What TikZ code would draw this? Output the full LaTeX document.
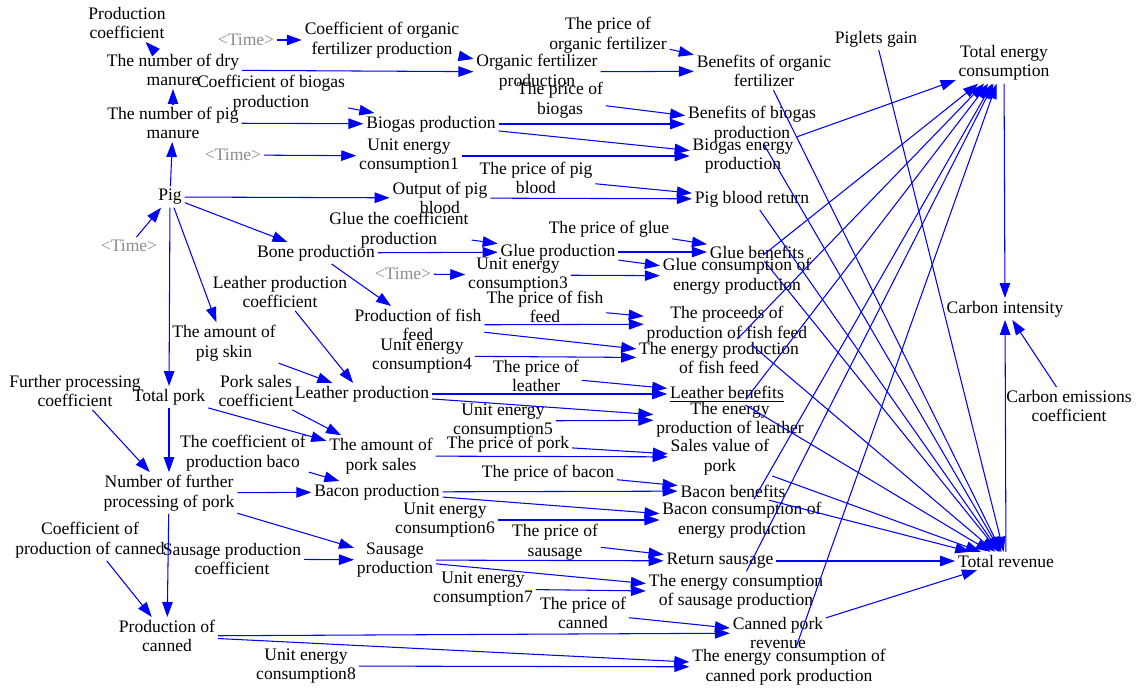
\documentclass[tikz,border=0pt]{standalone}
\usepackage{fontspec}
\setmainfont{Liberation Serif}
\usepackage{xcolor}
\usepackage{tikz}
\usetikzlibrary{
  arrows.meta
}
\definecolor{linkblue}{RGB}{0,0,255}
\tikzset{
  >={Triangle[length=3mm,width=2.1mm]},
  var/.style={align=center,inner sep=1.5pt},
  shadowvar/.style={var,text=gray!90},
  link/.style={->,draw=linkblue,line width=0.6pt}
}

\begin{document}
\begin{tikzpicture}[x=0.02cm,y=-0.02cm,font=\fontsize{10}{11.1}\selectfont]
    \useasboundingbox (0,0) rectangle (1137,688);
    % Estiércol y biogás
    \node[var] (prodcoef) at (127,23) {Production\\coefficient};
    \node[var] (drymanure) at (173,70) {The number of dry\\manure};
    \node[var] (pigmanure) at (173,123) {The number of pig\\manure};
    \node[shadowvar] (time1) at (246,40) {<Time>};
    \node[var] (coeforg) at (382,40) {Coefficient of organic\\fertilizer production};
    \node[var] (orgprod) at (537,72) {Organic fertilizer\\production};
    \node[var] (coefbio) at (271,93) {Coefficient of biogas\\production};
    \node[var] (bioprod) at (431,124) {Biogas production};
    \node[shadowvar] (time2) at (233,155) {<Time>};
    \node[var] (unit1) at (409,156) {Unit energy\\consumption1};
    \node[var] (priceorg) at (608,35) {The price of\\organic fertilizer};
    \node[var] (benorg) at (764,71) {Benefits of organic\\fertilizer};
    \node[var] (pricebio) at (560,100) {The price of\\biogas};
    \node[var] (benbio) at (752,124) {Benefits of biogas\\production};
    \node[var] (bioenergy) at (743,156) {Biogas energy\\production};
    % Sangre, hueso y cuero
    \node[var] (priceblood) at (536,178) {The price of pig\\blood};
    \node[var] (pig) at (170,197) {Pig};
    \node[var] (outblood) at (440,198) {Output of pig\\blood};
    \node[var] (bloodret) at (752,199) {Pig blood return};
    \node[shadowvar] (time3) at (129,246) {<Time>};
    \node[var] (bone) at (316,253) {Bone production};
    \node[var] (coefglue) at (399,230) {Glue the coefficient\\production};
    \node[var] (glueprod) at (558,252) {Glue production};
    \node[var] (priceglue) at (609,229) {The price of glue};
    \node[var] (gluebenefit) at (757,252) {Glue benefits};
    \node[shadowvar] (time4) at (403,274) {<Time>};
    \node[var] (unit3) at (518,275) {Unit energy\\consumption3};
    \node[var] (glueenergy) at (737,276) {Glue consumption of\\energy production};
    \node[var] (fishprod) at (418,325) {Production of fish\\feed};
    \node[var] (pricefish) at (545,307) {The price of fish\\feed};
    \node[var] (fishproceeds) at (727,324) {The proceeds of\\production of fish feed};
    \node[var] (unit4) at (422,356) {Unit energy\\consumption4};
    \node[var] (fishenergy) at (719,358) {The energy production\\of fish feed};
    \node[var] (coefleather) at (280,292) {Leather production\\coefficient};
    \node[var] (pigskin) at (224,343) {The amount of\\pig skin};
    \node[var] (leatherprod) at (362,394) {Leather production};
    \node[var] (priceleather) at (536,376) {The price of\\leather};
    \node[var] (leatherben) at (727,394) {\underline{Leather benefits}};
    \node[var] (unit5) at (503,421) {Unit energy\\consumption5};
    \node[var] (leatherenergy) at (730,420) {The energy\\production of leather};
    % Carne de cerdo
    \node[var] (coeffurther) at (75,391) {Further processing\\coefficient};
    \node[var] (totalpork) at (169,397) {Total pork};
    \node[var] (coefsales) at (256,391) {Pork sales\\coefficient};
    \node[var] (porksales) at (381,456) {The amount of\\pork sales};
    \node[var] (priceport) at (508,444) {The price of pork};
    \node[var] (salesvalue) at (720,457) {Sales value of\\pork};
    \node[var] (coefbacon) at (243,453) {The coefficient of\\production baco};
    \node[var] (further) at (169,493) {Number of further\\processing of pork};
    \node[var] (baconprod) at (377,492) {Bacon production};
    \node[var] (pricebacon) at (548,473) {The price of bacon};
    \node[var] (baconben) at (733,491) {Bacon benefits};
    \node[var] (unit6) at (445,520) {Unit energy\\consumption6};
    \node[var] (baconenergy) at (742,520) {Bacon consumption of\\energy production};
    \node[var] (coefcanned) at (90,540) {Coefficient of\\production of canned};
    \node[var] (coefsausage) at (232,559) {Sausage production\\coefficient};
    \node[var] (sausageprod) at (395,560) {Sausage\\production};
    \node[var] (pricesausage) at (555,542) {The price of\\sausage};
    \node[var] (sausageret) at (720,561) {Return sausage};
    \node[var] (unit7) at (483,589) {Unit energy\\consumption7};
    \node[var] (sausageenergy) at (736,592) {The energy consumption\\of sausage production};
    \node[var] (pricecanned) at (583,613) {The price of\\canned};
    \node[var] (cannedprod) at (167,636) {Production of\\canned};
    \node[var] (cannedrev) at (778,633) {Canned pork\\revenue};
    \node[var] (unit8) at (306,666) {Unit energy\\consumption8};
    \node[var] (cannedenergy) at (789,667) {The energy consumption of\\canned pork production};
    % Totales
    \node[var] (piglets) at (876,39) {Piglets gain};
    \node[var] (totalenergy) at (1004,63) {Total energy\\consumption};
    \node[var] (intensity) at (1005,309) {Carbon intensity};
    \node[var] (emission) at (1069,406) {Carbon emissions\\coefficient};
    \node[var] (totalrev) at (1006,561) {Total revenue};

    % Enlaces
    \foreach \a/\b in {drymanure/prodcoef,pigmanure/drymanure,time1/coeforg,drymanure/orgprod,
        coeforg/orgprod,priceorg/benorg,orgprod/benorg,coefbio/bioprod,pigmanure/bioprod,
        time2/unit1,pricebio/benbio,bioprod/benbio,bioprod/bioenergy,unit1/bioenergy,
        priceblood/bloodret,outblood/bloodret,pig/outblood,time3/pig,pig/pigmanure,pig/bone,
        pig/totalpork,pig/pigskin,coefglue/glueprod,bone/glueprod,priceglue/gluebenefit,
        glueprod/gluebenefit,glueprod/glueenergy,time4/unit3,unit3/glueenergy,bone/fishprod,
        pricefish/fishproceeds,fishprod/fishproceeds,fishprod/fishenergy,unit4/fishenergy,
        coefleather/leatherprod,pigskin/leatherprod,priceleather/leatherben,
        leatherprod/leatherben,leatherprod/leatherenergy,unit5/leatherenergy}
        \draw[link] (\a) -- (\b);
    \foreach \a/\b in {coeffurther/further,totalpork/porksales,totalpork/further,
        coefsales/porksales,priceport/salesvalue,porksales/salesvalue,coefbacon/baconprod,
        further/baconprod,pricebacon/baconben,baconprod/baconben,baconprod/baconenergy,
        unit6/baconenergy,further/sausageprod,further/cannedprod,coefcanned/cannedprod,
        coefsausage/sausageprod,pricesausage/sausageret,sausageprod/sausageret,
        sausageprod/sausageenergy,unit7/sausageenergy,pricecanned/cannedrev,
        cannedprod/cannedrev,cannedprod/cannedenergy,unit8/cannedenergy}
        \draw[link] (\a) -- (\b);
    \foreach \a in {benorg,benbio,bloodret,gluebenefit,fishproceeds,leatherben,salesvalue,
        baconben,sausageret,cannedrev,piglets}
        \draw[link] (\a) -- (totalrev);
    \foreach \a in {bioenergy,glueenergy,fishenergy,leatherenergy,baconenergy,
        sausageenergy,cannedenergy}
        \draw[link] (\a) -- (totalenergy);
    \draw[link] (totalenergy) -- (intensity);
    \draw[link] (emission) -- (intensity);
    \draw[link] (totalrev) -- (intensity);
\end{tikzpicture}
\end{document}
